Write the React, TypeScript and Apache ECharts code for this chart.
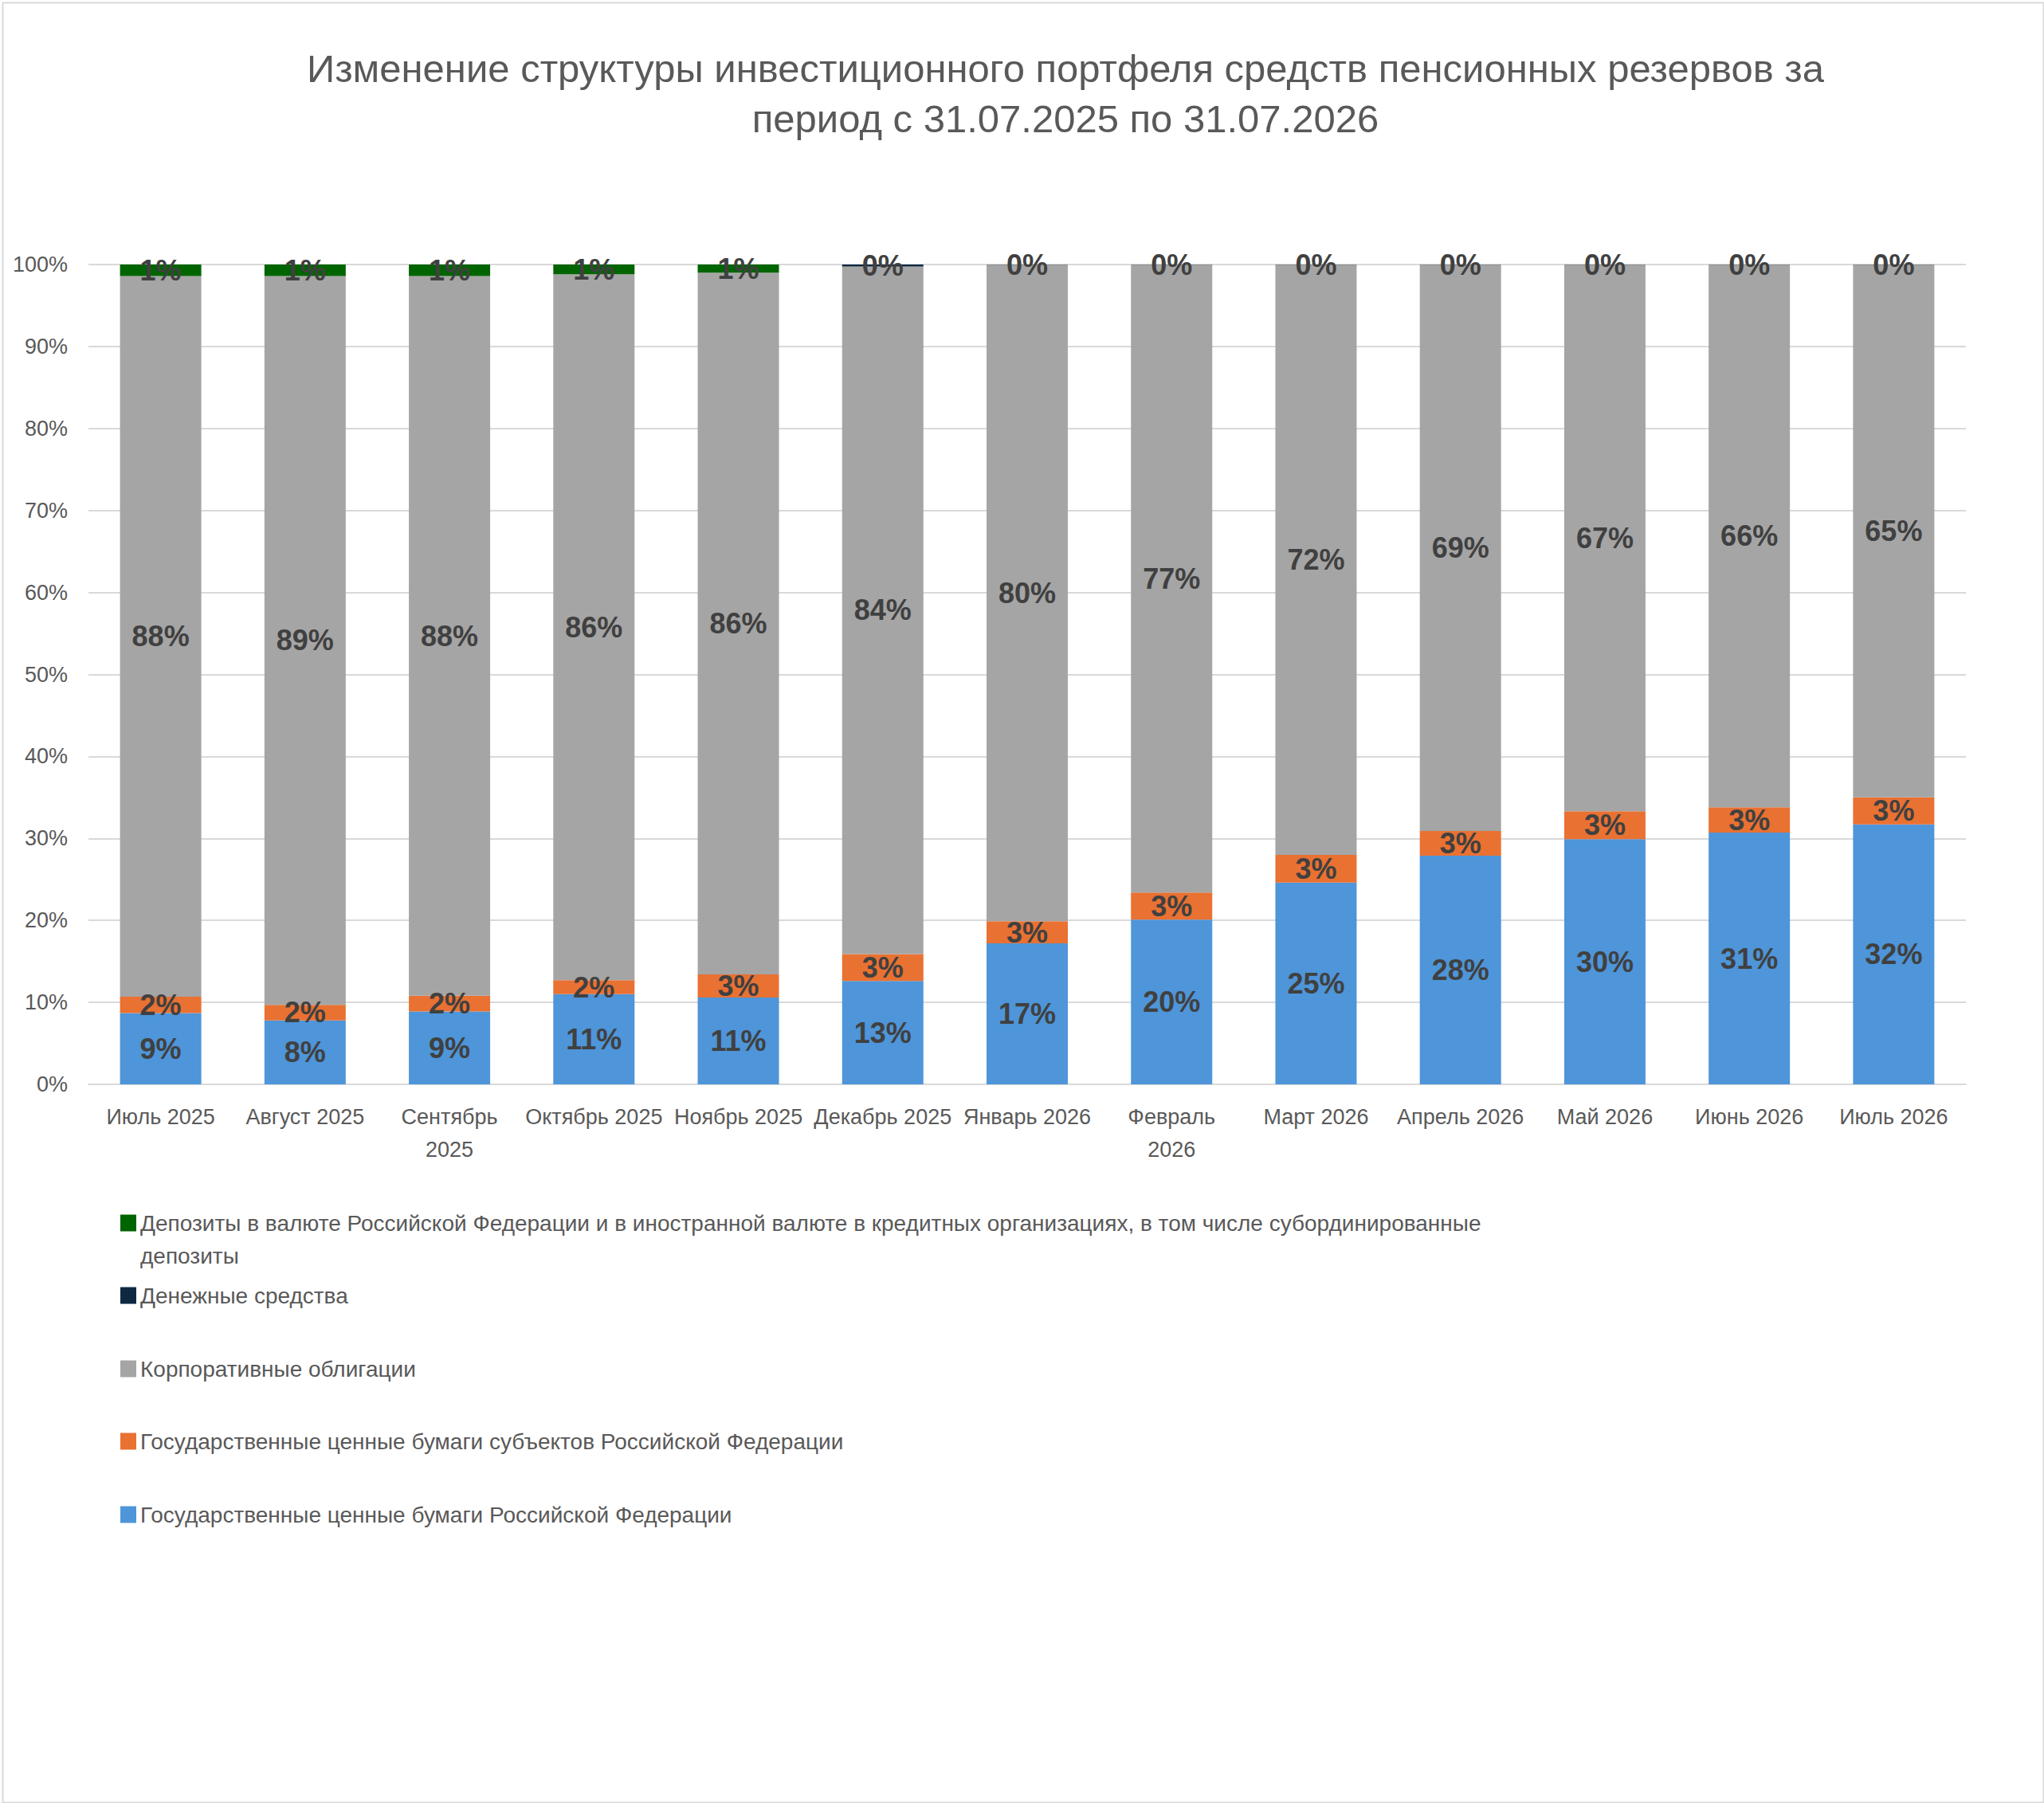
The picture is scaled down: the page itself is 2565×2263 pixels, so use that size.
import React, { useEffect, useRef } from 'react';
import * as echarts from 'echarts';

const TITLE = 'Изменение структуры инвестиционного портфеля средств пенсионных резервов за\nпериод с 31.07.2025 по 31.07.2026';

const categories = [
  'Июль 2025', 'Август 2025', 'Сентябрь\n2025', 'Октябрь 2025', 'Ноябрь 2025', 'Декабрь 2025',
  'Январь 2026', 'Февраль\n2026', 'Март 2026', 'Апрель 2026', 'Май 2026', 'Июнь 2026', 'Июль 2026',
];

const NAME_FED = 'Государственные ценные бумаги Российской Федерации';
const NAME_REG = 'Государственные ценные бумаги субъектов Российской Федерации';
const NAME_CORP = 'Корпоративные облигации';
const NAME_CASH = 'Денежные средства';
const NAME_DEP = 'Депозиты в валюте Российской Федерации и в иностранной валюте в кредитных организациях, в том числе субординированные депозиты';

const federalBonds = [8.7, 7.8, 8.9, 11.0, 10.6, 12.6, 17.2, 20.1, 24.6, 27.9, 29.9, 30.7, 31.7];
const regionalBonds = [2.0, 1.9, 1.9, 1.7, 2.8, 3.3, 2.7, 3.3, 3.4, 3.0, 3.4, 3.1, 3.3];
const corporateBonds = [87.9, 88.9, 87.8, 86.1, 85.6, 83.85, 80.07, 76.57, 71.97, 69.07, 66.67, 66.17, 64.97];
const cash = [null, null, null, null, null, 0.25, 0.03, 0.03, 0.03, 0.03, 0.03, 0.03, 0.03];
const deposits = [1.4, 1.4, 1.4, 1.2, 1.0, null, null, null, null, null, null, null, null];

const yTicks = { min: 0, max: 100, interval: 10 };

const FONT = '"Liberation Sans", Arial, sans-serif';
const TEXT_GREY = '#595959';

const colors = {
  fed: '#4E95D9',
  reg: '#E97132',
  corp: '#A5A5A5',
  cash: '#0E2841',
  dep: '#006400',
};

export default function App() {
  const ref = useRef<HTMLDivElement>(null);

  useEffect(() => {
    document.body.style.margin = '0';
    const chart = echarts.init(ref.current!, null, { renderer: 'svg' });

    const label = {
      show: true,
      position: 'inside',
      fontFamily: FONT,
      fontSize: 36,
      fontWeight: 'bold',
      color: '#404040',
      formatter: (p: any) => `${Math.round(p.value)}%`,
    };

    const mkSeries = (name: string, data: (number | null)[], color: string) => ({
      name,
      type: 'bar',
      stack: 'total',
      data,
      barWidth: 102,
      itemStyle: { color },
      label,
      emphasis: { disabled: true },
    });

    const legendBase = {
      orient: 'vertical',
      left: 151,
      padding: 0,
      itemWidth: 20,
      itemHeight: 21,
      itemGap: 8,
      icon: 'rect',
      selectedMode: false,
      textStyle: { fontFamily: FONT, fontSize: 28, color: TEXT_GREY, lineHeight: 30 },
    };

    const centers = [1535, 1626, 1718, 1809, 1901];
    const LH = 41;

    const option: any = {
      animation: false,
      backgroundColor: '#ffffff',
      title: {
        text: TITLE,
        left: 1337,
        top: 54,
        padding: 0,
        textAlign: 'center',
        textStyle: {
          fontFamily: FONT,
          fontSize: 49,
          fontWeight: 'normal',
          color: TEXT_GREY,
          lineHeight: 63,
        },
      },
      grid: { left: 111, right: 98, top: 332, bottom: 902, containLabel: false },
      xAxis: {
        type: 'category',
        data: categories,
        axisLine: { show: true, lineStyle: { color: '#D9D9D9', width: 2 } },
        axisTick: { show: false },
        axisLabel: {
          interval: 0,
          margin: 20,
          fontFamily: FONT,
          fontSize: 27,
          color: TEXT_GREY,
          lineHeight: 41,
        },
      },
      yAxis: {
        type: 'value',
        ...yTicks,
        axisLine: { show: false },
        axisTick: { show: false },
        splitLine: { lineStyle: { color: '#D9D9D9', width: 2 } },
        axisLabel: {
          formatter: '{value}%',
          margin: 26,
          fontFamily: FONT,
          fontSize: 27,
          color: TEXT_GREY,
        },
      },
      legend: [
        {
          ...legendBase,
          top: centers[0] - LH * 1.5,
          data: [NAME_DEP],
          formatter: (n: string) => ' \n' + n.replace(' депозиты', '\nдепозиты'),
          textStyle: { ...legendBase.textStyle, lineHeight: LH },
        },
        { ...legendBase, top: centers[1] - 15, data: [NAME_CASH] },
        { ...legendBase, top: centers[2] - 15, data: [NAME_CORP] },
        { ...legendBase, top: centers[3] - 15, data: [NAME_REG] },
        { ...legendBase, top: centers[4] - 15, data: [NAME_FED] },
      ],
      graphic: [
        {
          type: 'rect',
          left: 1,
          top: 1,
          shape: { width: 2561, height: 2259 },
          style: { fill: 'none', stroke: '#D9D9D9', lineWidth: 2 },
          silent: true,
        },
      ],
      series: [
        mkSeries(NAME_FED, federalBonds, colors.fed),
        mkSeries(NAME_REG, regionalBonds, colors.reg),
        mkSeries(NAME_CORP, corporateBonds, colors.corp),
        mkSeries(NAME_CASH, cash, colors.cash),
        mkSeries(NAME_DEP, deposits, colors.dep),
      ],
    };

    chart.setOption(option);
    return () => chart.dispose();
  }, []);

  return (
    <div
      ref={ref}
      style={{ position: 'absolute', left: 0, top: 0, width: 2565, height: 2263 }}
    />
  );
}
